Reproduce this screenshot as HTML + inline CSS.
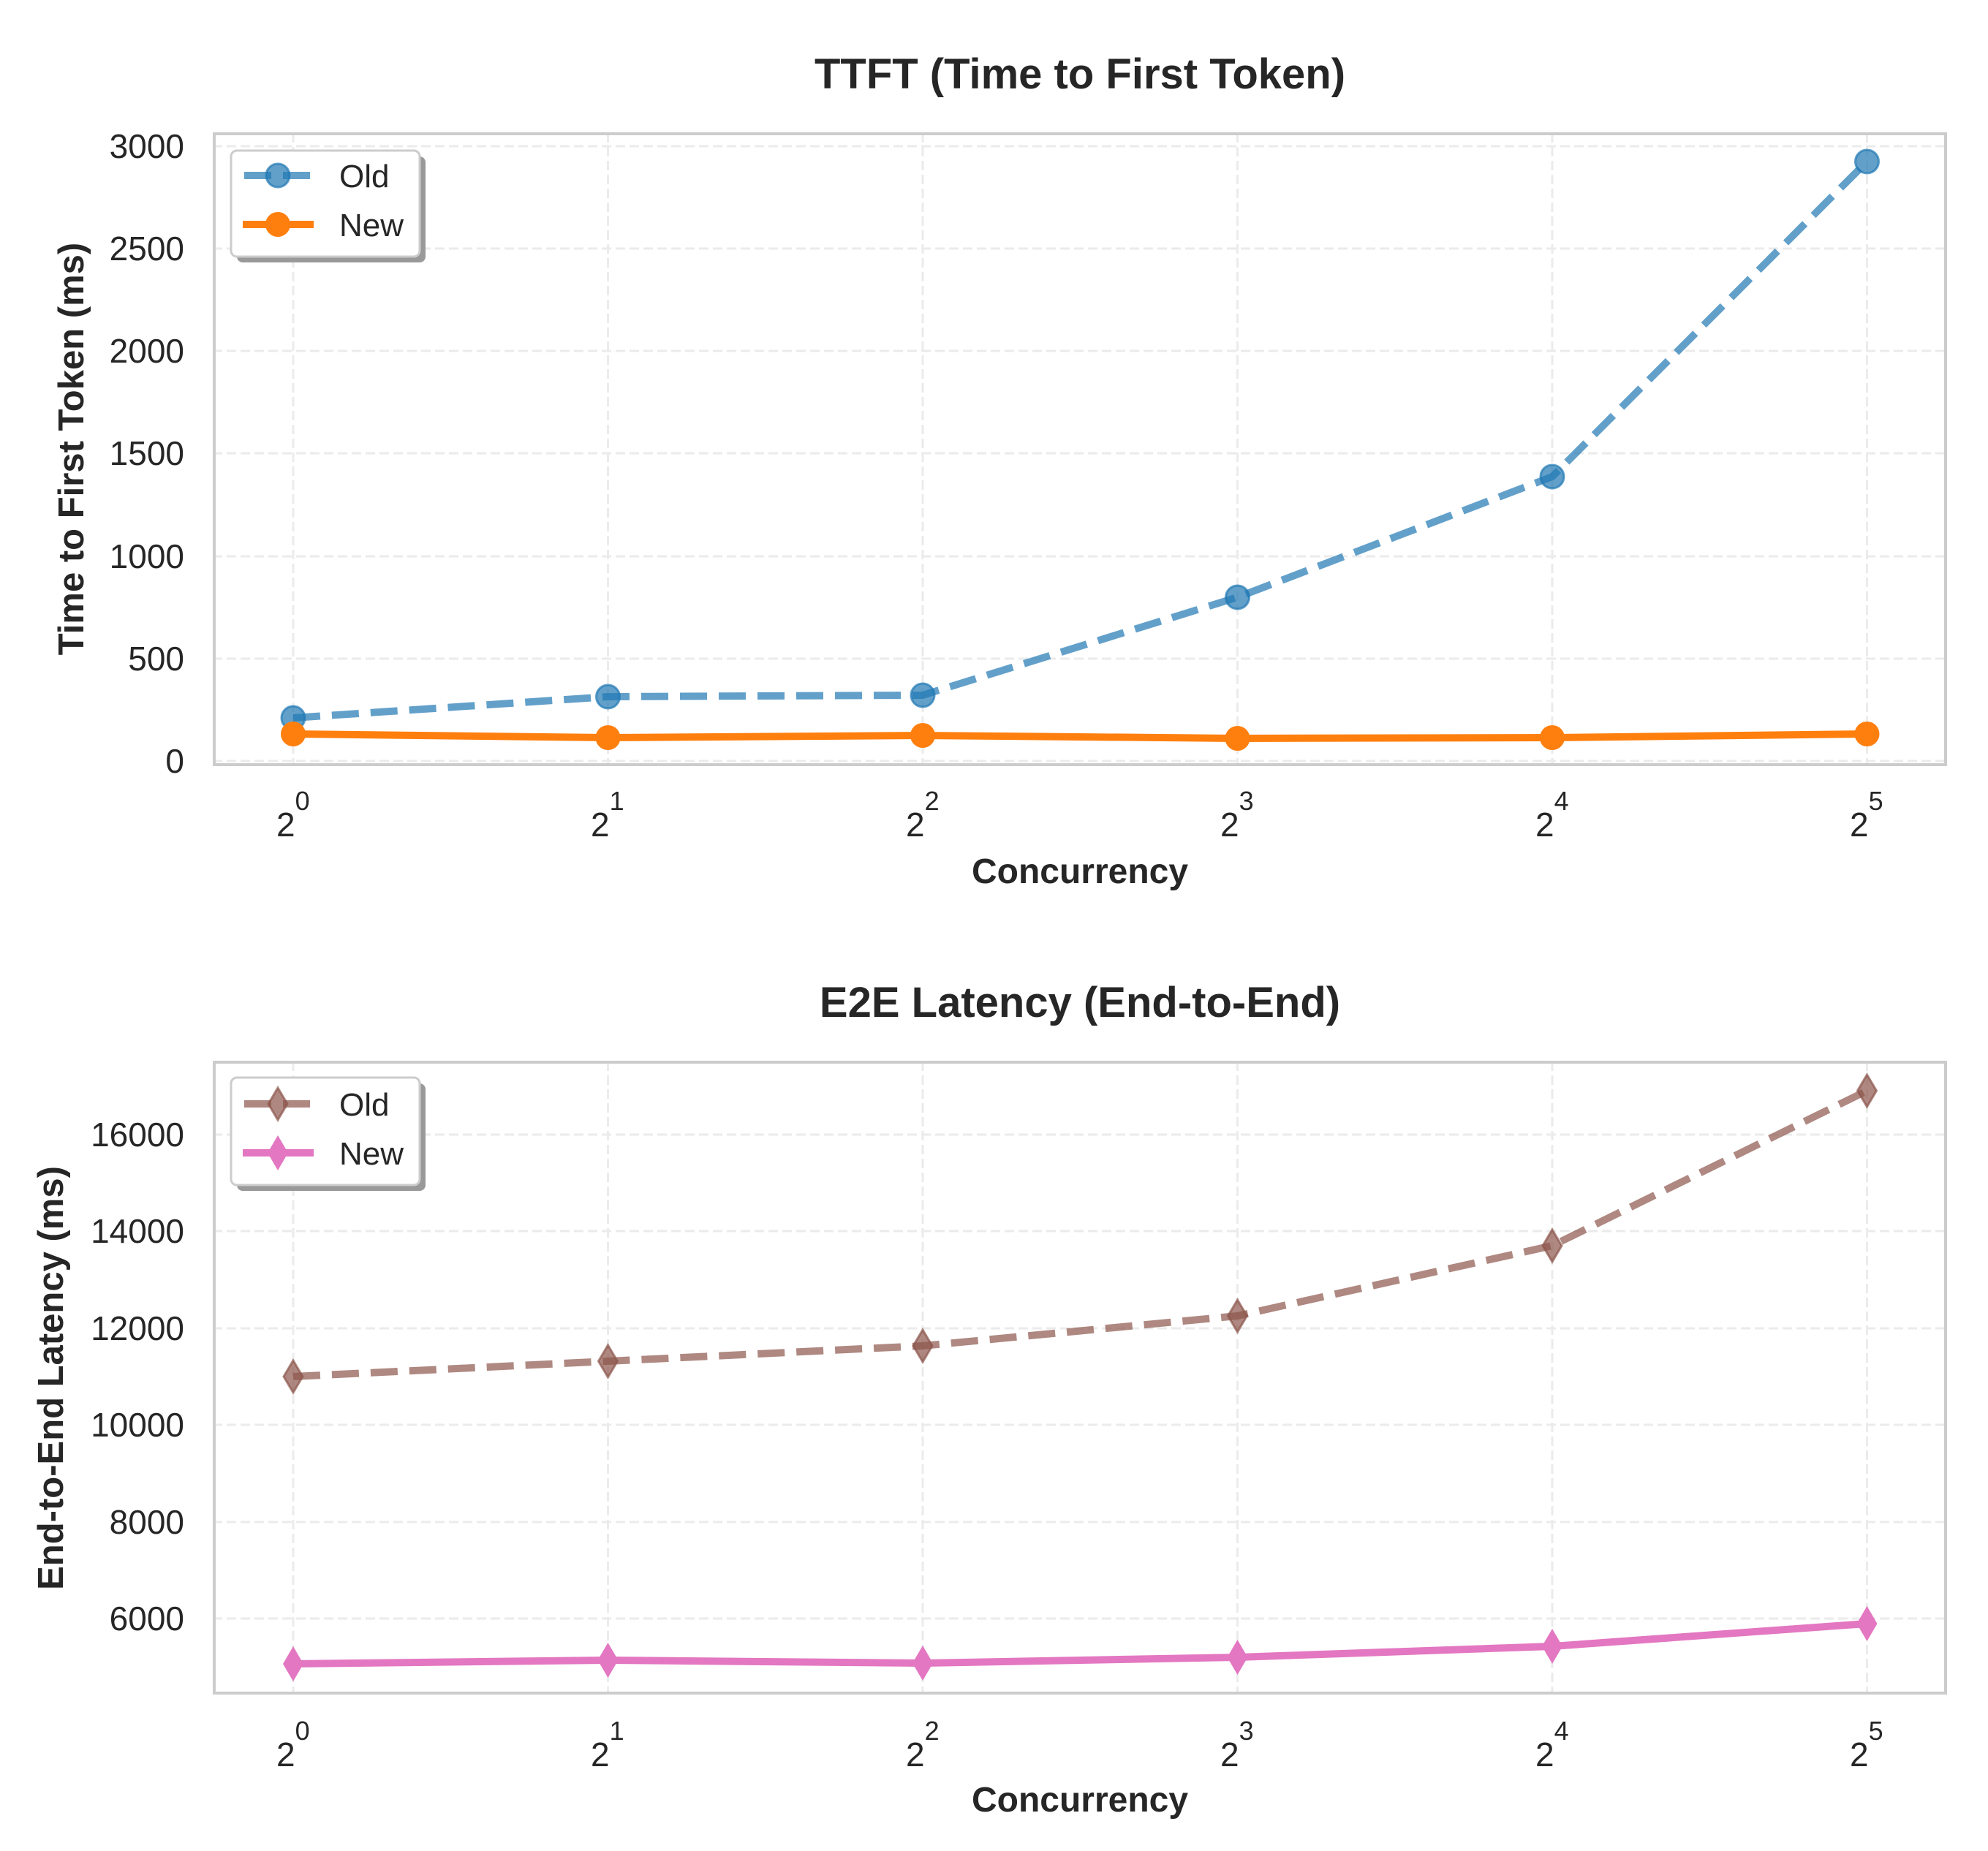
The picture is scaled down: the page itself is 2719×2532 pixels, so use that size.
<!DOCTYPE html>
<html><head><meta charset="utf-8"><style>html,body{margin:0;padding:0;background:#fff}svg{display:block}</style></head>
<body>
<svg width="2719" height="2532" viewBox="0 0 2719 2532" xmlns="http://www.w3.org/2000/svg" font-family="Liberation Sans, Arial, sans-serif" fill="#262626">
<rect width="2719" height="2532" fill="#fff"/>

<!-- ===== TOP PANEL ===== -->
<g stroke="#ebebeb" stroke-width="3" stroke-dasharray="13,6">
<line x1="291" x2="2662" y1="1041" y2="1041"/><line x1="291" x2="2662" y1="901" y2="901"/>
<line x1="291" x2="2662" y1="761" y2="761"/><line x1="291" x2="2662" y1="620" y2="620"/>
<line x1="291" x2="2662" y1="480" y2="480"/><line x1="291" x2="2662" y1="340" y2="340"/>
<line x1="291" x2="2662" y1="200" y2="200"/>
<line x1="401" x2="401" y1="182" y2="1047"/><line x1="831.5" x2="831.5" y1="182" y2="1047"/>
<line x1="1262" x2="1262" y1="182" y2="1047"/><line x1="1692.5" x2="1692.5" y1="182" y2="1047"/>
<line x1="2123" x2="2123" y1="182" y2="1047"/><line x1="2553.5" x2="2553.5" y1="182" y2="1047"/>
</g>
<rect x="293" y="183" width="2368" height="863" fill="none" stroke="#cccccc" stroke-width="4"/>
<polyline points="401,982 831.5,953 1262,951 1692.5,817 2123,652 2553.5,221" fill="none" stroke="#1f77b4" stroke-opacity="0.7" stroke-width="10" stroke-dasharray="37,16"/>
<g fill="#1f77b4" fill-opacity="0.7" stroke="#1f77b4" stroke-opacity="0.7" stroke-width="3">
<circle cx="401" cy="982" r="16"/><circle cx="831.5" cy="953" r="16"/><circle cx="1262" cy="951" r="16"/>
<circle cx="1692.5" cy="817" r="16"/><circle cx="2123" cy="652" r="16"/><circle cx="2553.5" cy="221" r="16"/>
</g>
<polyline points="401,1004 831.5,1009 1262,1006 1692.5,1010 2123,1009 2553.5,1004" fill="none" stroke="#ff7f0e" stroke-width="10"/>
<g fill="#ff7f0e">
<circle cx="401" cy="1004" r="17"/><circle cx="831.5" cy="1009" r="17"/><circle cx="1262" cy="1006" r="17"/>
<circle cx="1692.5" cy="1010" r="17"/><circle cx="2123" cy="1009" r="17"/><circle cx="2553.5" cy="1004" r="17"/>
</g>
<g font-size="46" text-anchor="end">
<text x="252" y="1057">0</text><text x="252" y="917">500</text><text x="252" y="777">1000</text>
<text x="252" y="636">1500</text><text x="252" y="496">2000</text><text x="252" y="356">2500</text><text x="252" y="216">3000</text>
</g>
<g font-size="46">
<text x="378" y="1144">2<tspan font-size="36" dy="-36">0</tspan></text>
<text x="808" y="1144">2<tspan font-size="36" dy="-36">1</tspan></text>
<text x="1239" y="1144">2<tspan font-size="36" dy="-36">2</tspan></text>
<text x="1669" y="1144">2<tspan font-size="36" dy="-36">3</tspan></text>
<text x="2100" y="1144">2<tspan font-size="36" dy="-36">4</tspan></text>
<text x="2530" y="1144">2<tspan font-size="36" dy="-36">5</tspan></text>
</g>
<text x="1477" y="1208" font-size="48" font-weight="bold" text-anchor="middle">Concurrency</text>
<text x="1477" y="121" font-size="58" font-weight="bold" text-anchor="middle">TTFT (Time to First Token)</text>
<text transform="translate(114,614) rotate(-90)" font-size="49" font-weight="bold" text-anchor="middle">Time to First Token (ms)</text>
<rect x="324" y="214" width="258" height="145" rx="8" fill="#999"/>
<rect x="316" y="206" width="258" height="145" rx="8" fill="#fff" stroke="#cccccc" stroke-width="3"/>
<line x1="334" x2="427" y1="240" y2="240" stroke="#1f77b4" stroke-opacity="0.7" stroke-width="10" stroke-dasharray="37,16"/>
<circle cx="380" cy="240" r="16" fill="#1f77b4" fill-opacity="0.7" stroke="#1f77b4" stroke-opacity="0.7" stroke-width="3"/>
<line x1="332" x2="429" y1="307" y2="307" stroke="#ff7f0e" stroke-width="10"/>
<circle cx="380" cy="307" r="17" fill="#ff7f0e"/>
<text x="464" y="256" font-size="44">Old</text>
<text x="464" y="323" font-size="44">New</text>

<!-- ===== BOTTOM PANEL ===== -->
<g stroke="#ebebeb" stroke-width="3" stroke-dasharray="13,6">
<line x1="291" x2="2662" y1="2214" y2="2214"/><line x1="291" x2="2662" y1="2082" y2="2082"/>
<line x1="291" x2="2662" y1="1949" y2="1949"/><line x1="291" x2="2662" y1="1817" y2="1817"/>
<line x1="291" x2="2662" y1="1684" y2="1684"/><line x1="291" x2="2662" y1="1552" y2="1552"/>
<line x1="401" x2="401" y1="1452" y2="2318"/><line x1="831.5" x2="831.5" y1="1452" y2="2318"/>
<line x1="1262" x2="1262" y1="1452" y2="2318"/><line x1="1692.5" x2="1692.5" y1="1452" y2="2318"/>
<line x1="2123" x2="2123" y1="1452" y2="2318"/><line x1="2553.5" x2="2553.5" y1="1452" y2="2318"/>
</g>
<rect x="293" y="1453" width="2368" height="863" fill="none" stroke="#cccccc" stroke-width="4"/>
<polyline points="401,1883 831.5,1862 1262,1841 1692.5,1800 2123,1704 2553.5,1492" fill="none" stroke="#8c564b" stroke-opacity="0.7" stroke-width="10" stroke-dasharray="37,16"/>
<g fill="#8c564b" fill-opacity="0.7" stroke="#8c564b" stroke-opacity="0.7" stroke-width="3">
<path d="M401,1861 L414,1883 L401,1905 L388,1883Z"/><path d="M831.5,1840 L844.5,1862 L831.5,1884 L818.5,1862Z"/>
<path d="M1262,1819 L1275,1841 L1262,1863 L1249,1841Z"/><path d="M1692.5,1778 L1705.5,1800 L1692.5,1822 L1679.5,1800Z"/>
<path d="M2123,1682 L2136,1704 L2123,1726 L2110,1704Z"/><path d="M2553.5,1470 L2566.5,1492 L2553.5,1514 L2540.5,1492Z"/>
</g>
<polyline points="401,2276 831.5,2271 1262,2275 1692.5,2267 2123,2252 2553.5,2221" fill="none" stroke="#e377c2" stroke-width="10"/>
<g fill="#e377c2">
<path d="M401,2252 L415,2276 L401,2300 L387,2276Z"/><path d="M831.5,2247 L845.5,2271 L831.5,2295 L817.5,2271Z"/>
<path d="M1262,2251 L1276,2275 L1262,2299 L1248,2275Z"/><path d="M1692.5,2243 L1706.5,2267 L1692.5,2291 L1678.5,2267Z"/>
<path d="M2123,2228 L2137,2252 L2123,2276 L2109,2252Z"/><path d="M2553.5,2197 L2567.5,2221 L2553.5,2245 L2539.5,2221Z"/>
</g>
<g font-size="46" text-anchor="end">
<text x="252" y="2230">6000</text><text x="252" y="2098">8000</text><text x="252" y="1965">10000</text>
<text x="252" y="1833">12000</text><text x="252" y="1700">14000</text><text x="252" y="1568">16000</text>
</g>
<g font-size="46">
<text x="378" y="2416">2<tspan font-size="36" dy="-36">0</tspan></text>
<text x="808" y="2416">2<tspan font-size="36" dy="-36">1</tspan></text>
<text x="1239" y="2416">2<tspan font-size="36" dy="-36">2</tspan></text>
<text x="1669" y="2416">2<tspan font-size="36" dy="-36">3</tspan></text>
<text x="2100" y="2416">2<tspan font-size="36" dy="-36">4</tspan></text>
<text x="2530" y="2416">2<tspan font-size="36" dy="-36">5</tspan></text>
</g>
<text x="1477" y="2478" font-size="48" font-weight="bold" text-anchor="middle">Concurrency</text>
<text x="1477" y="1391" font-size="58" font-weight="bold" text-anchor="middle">E2E Latency (End-to-End)</text>
<text transform="translate(86,1885) rotate(-90)" font-size="49" font-weight="bold" text-anchor="middle">End-to-End Latency (ms)</text>
<rect x="324" y="1482" width="258" height="147" rx="8" fill="#999"/>
<rect x="316" y="1474" width="258" height="147" rx="8" fill="#fff" stroke="#cccccc" stroke-width="3"/>
<line x1="334" x2="427" y1="1510" y2="1510" stroke="#8c564b" stroke-opacity="0.7" stroke-width="10" stroke-dasharray="37,16"/>
<path d="M380,1488 L393,1510 L380,1532 L367,1510Z" fill="#8c564b" fill-opacity="0.7" stroke="#8c564b" stroke-opacity="0.7" stroke-width="3"/>
<line x1="332" x2="429" y1="1577" y2="1577" stroke="#e377c2" stroke-width="10"/>
<path d="M380,1553 L394,1577 L380,1601 L366,1577Z" fill="#e377c2"/>
<text x="464" y="1526" font-size="44">Old</text>
<text x="464" y="1593" font-size="44">New</text>
</svg>
</body></html>
